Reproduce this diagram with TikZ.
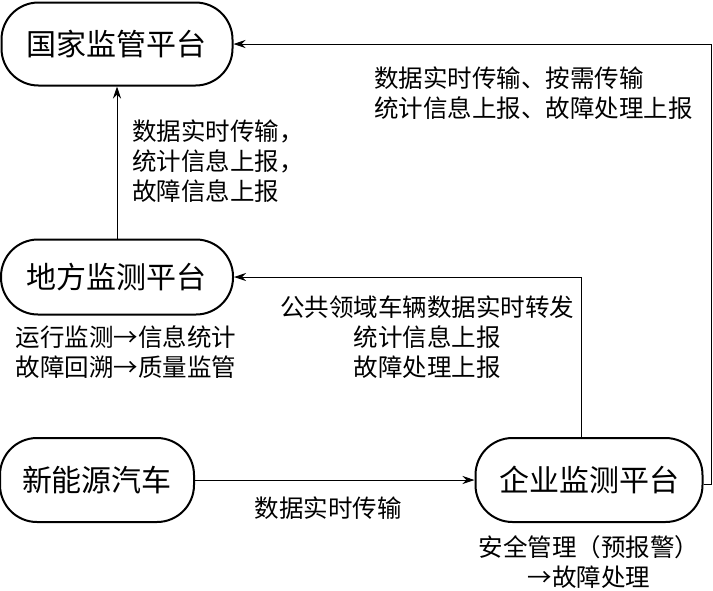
\documentclass[tikz,border=0pt]{standalone}
\usepackage{fontspec}
\setmainfont{Noto Sans CJK SC}
\usepackage{tikz}
\usetikzlibrary{shapes, arrows.meta, positioning}

\begin{document}
\begin{tikzpicture}[x=1pt, y=-1pt,
    platform/.style={draw, line width=2pt, rounded corners=37pt, minimum height=#1, inner sep=0pt, font=\fontsize{30}{30}\selectfont},
    platform/.default=80pt,
    note/.style={inner sep=0pt, font=\fontsize{24.5}{30}\selectfont},
    flow/.style={line width=1pt, -{Stealth[length=12pt, width=8pt]}}]
    \useasboundingbox (0,0) rectangle (713,590);
    % platforms
    \node[platform=83pt, minimum width=231pt] (guojia) at (117,44) {国家监管平台};
    \node[platform=75pt, minimum width=232pt] (difang) at (117,277) {地方监测平台};
    \node[platform=84pt, minimum width=194pt] (car) at (97,480) {新能源汽车};
    \node[platform=84pt, minimum width=227pt] (qiye) at (589,480) {企业监测平台};
    % connectors
    \draw[flow] (difang.north) -- (guojia.south);
    \draw[flow] (car.east) -- (qiye.west);
    \draw[flow] ([xshift=-8pt]qiye.north) |- (difang.east);
    \draw[flow] ([yshift=-4pt]qiye.east) -- ++(8,0) |- (guojia.east);
    % labels
    \node[note, align=left, anchor=west] (upnational) at (374,93) {数据实时传输、按需传输\\统计信息上报、故障处理上报};
    \node[note, align=left, anchor=west] (uplocal) at (132,161) {数据实时传输，\\统计信息上报，\\故障信息上报};
    \node[note, align=center] (forward) at (427,337) {公共领域车辆数据实时转发\\统计信息上报\\故障处理上报};
    \node[note, align=center] (localtask) at (126,352) {运行监测→信息统计\\故障回溯→质量监管};
    \node[note] (realtime) at (328,508) {数据实时传输};
    \node[note, align=center] (qiyetask) at (589,562) {安全管理（预报警）\\→故障处理};
\end{tikzpicture}
\end{document}
